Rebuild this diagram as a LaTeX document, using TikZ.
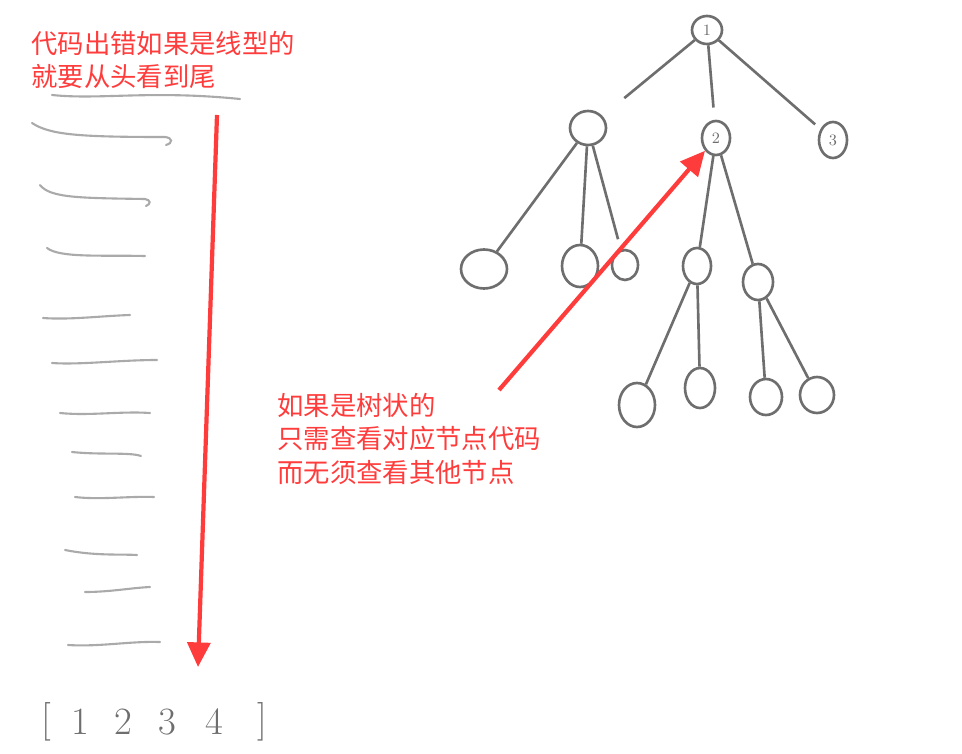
\documentclass[tikz,border=0pt]{standalone}
\usepackage{fontspec}
\newfontfamily\cjk{Noto Sans CJK SC}
\usetikzlibrary{arrows.meta,shapes.geometric}
\definecolor{notered}{RGB}{255,60,60}
\definecolor{treegray}{RGB}{110,110,110}
\definecolor{linegray}{RGB}{170,170,170}

\begin{document}
\begin{tikzpicture}[x=0.02cm,y=-0.02cm,
  note/.style={anchor=north west,align=left,inner sep=0pt,text=notered,font=\cjk\fontsize{15pt}{19pt}\selectfont},
  bigarrow/.style={draw=notered,line width=2.4pt,-{Triangle[length=14pt,width=13pt]}},
  leaf/.style={ellipse,draw=treegray,line width=1.5pt,inner sep=0pt,text=treegray,font=\small},
  edge/.style={draw=treegray,line width=1.5pt},
  stroke/.style={draw=linegray,line width=1.2pt,line cap=round},
  digit/.style={text=treegray,font=\fontsize{22pt}{22pt}\selectfont}]
  \useasboundingbox (0,0) rectangle (962,753);
  \node[note] (linear) at (31,31) {代码出错如果是线型的\\就要从头看到尾};
  \draw[stroke] (52,95) .. controls (100,100) and (150,90) .. (240,99);
  \draw[stroke] (32,123) .. controls (50,135) and (80,137) .. (165,137) .. controls (173,138) and (173,143) .. (166,145);
  \draw[stroke] (40,185) .. controls (50,198) and (80,198) .. (145,199) .. controls (151,200) and (151,204) .. (146,206);
  \draw[stroke] (47,248) .. controls (60,258) and (100,255) .. (145,256);
  \draw[stroke] (43,318) .. controls (70,320) and (100,316) .. (130,315);
  \draw[stroke] (52,363) .. controls (80,365) and (120,360) .. (157,360);
  \draw[stroke] (60,413) .. controls (90,416) and (120,411) .. (150,413);
  \draw[stroke] (72,452) .. controls (100,455) and (130,452) .. (141,456);
  \draw[stroke] (75,497) .. controls (100,500) and (130,496) .. (154,497);
  \draw[stroke] (65,550) .. controls (95,556) and (120,554) .. (137,555);
  \draw[stroke] (85,592) .. controls (110,592) and (130,588) .. (150,587);
  \draw[stroke] (68,645) .. controls (100,647) and (130,641) .. (160,642);
  \coordinate (downtop) at (217,115);
  \coordinate (downend) at (198,667);
  \draw[bigarrow] (downtop) -- (downend);
  \node[digit] (lb) at (46,722) {[};
  \node[digit] (d1) at (80,722) {1};
  \node[digit] (d2) at (123,722) {2};
  \node[digit] (d3) at (167,722) {3};
  \node[digit] (d4) at (214,722) {4};
  \node[digit] (rb) at (262,722) {]};
  \node[leaf,minimum width=0.6cm,minimum height=0.56cm] (root) at (707,30) {1};
  \node[leaf,minimum width=0.72cm,minimum height=0.68cm] (a) at (588,128) {};
  \node[leaf,minimum width=0.56cm,minimum height=0.68cm] (b) at (716,138) {2};
  \node[leaf,minimum width=0.56cm,minimum height=0.72cm] (c) at (833,140) {3};
  \node[leaf,minimum width=0.92cm,minimum height=0.78cm] (a1) at (484,269) {};
  \node[leaf,minimum width=0.72cm,minimum height=0.84cm] (a2) at (580,266) {};
  \node[leaf,minimum width=0.52cm,minimum height=0.6cm] (a3) at (625,265) {};
  \node[leaf,minimum width=0.56cm,minimum height=0.72cm] (b1) at (697,266) {};
  \node[leaf,minimum width=0.6cm,minimum height=0.72cm] (b2) at (758,282) {};
  \node[leaf,minimum width=0.72cm,minimum height=0.88cm] (b11) at (637,405) {};
  \node[leaf,minimum width=0.6cm,minimum height=0.8cm] (b12) at (700,388) {};
  \node[leaf,minimum width=0.64cm,minimum height=0.72cm] (b21) at (766,397) {};
  \node[leaf,minimum width=0.68cm,minimum height=0.72cm] (b22) at (817,395) {};
  \draw[edge,shorten >=16pt] (root) -- (a);
  \draw[edge,shorten >=7pt] (root) -- (b);
  \draw[edge,shorten >=4pt] (root) -- (c);
  \draw[edge] (a) -- (a1);
  \draw[edge] (a) -- (a2);
  \draw[edge,shorten >=6pt] (a) -- (a3);
  \draw[edge] (b) -- (b1);
  \draw[edge] (b) -- (b2);
  \draw[edge] (b1) -- (b11);
  \draw[edge] (b1) -- (b12);
  \draw[edge] (b2) -- (b21);
  \draw[edge] (b2) -- (b22);
  \node[note] (tree) at (277,393) {如果是树状的\\只需查看对应节点代码\\而无须查看其他节点};
  \coordinate (uptail) at (499,390);
  \draw[bigarrow] (uptail) -- (b);
\end{tikzpicture}
\end{document}
